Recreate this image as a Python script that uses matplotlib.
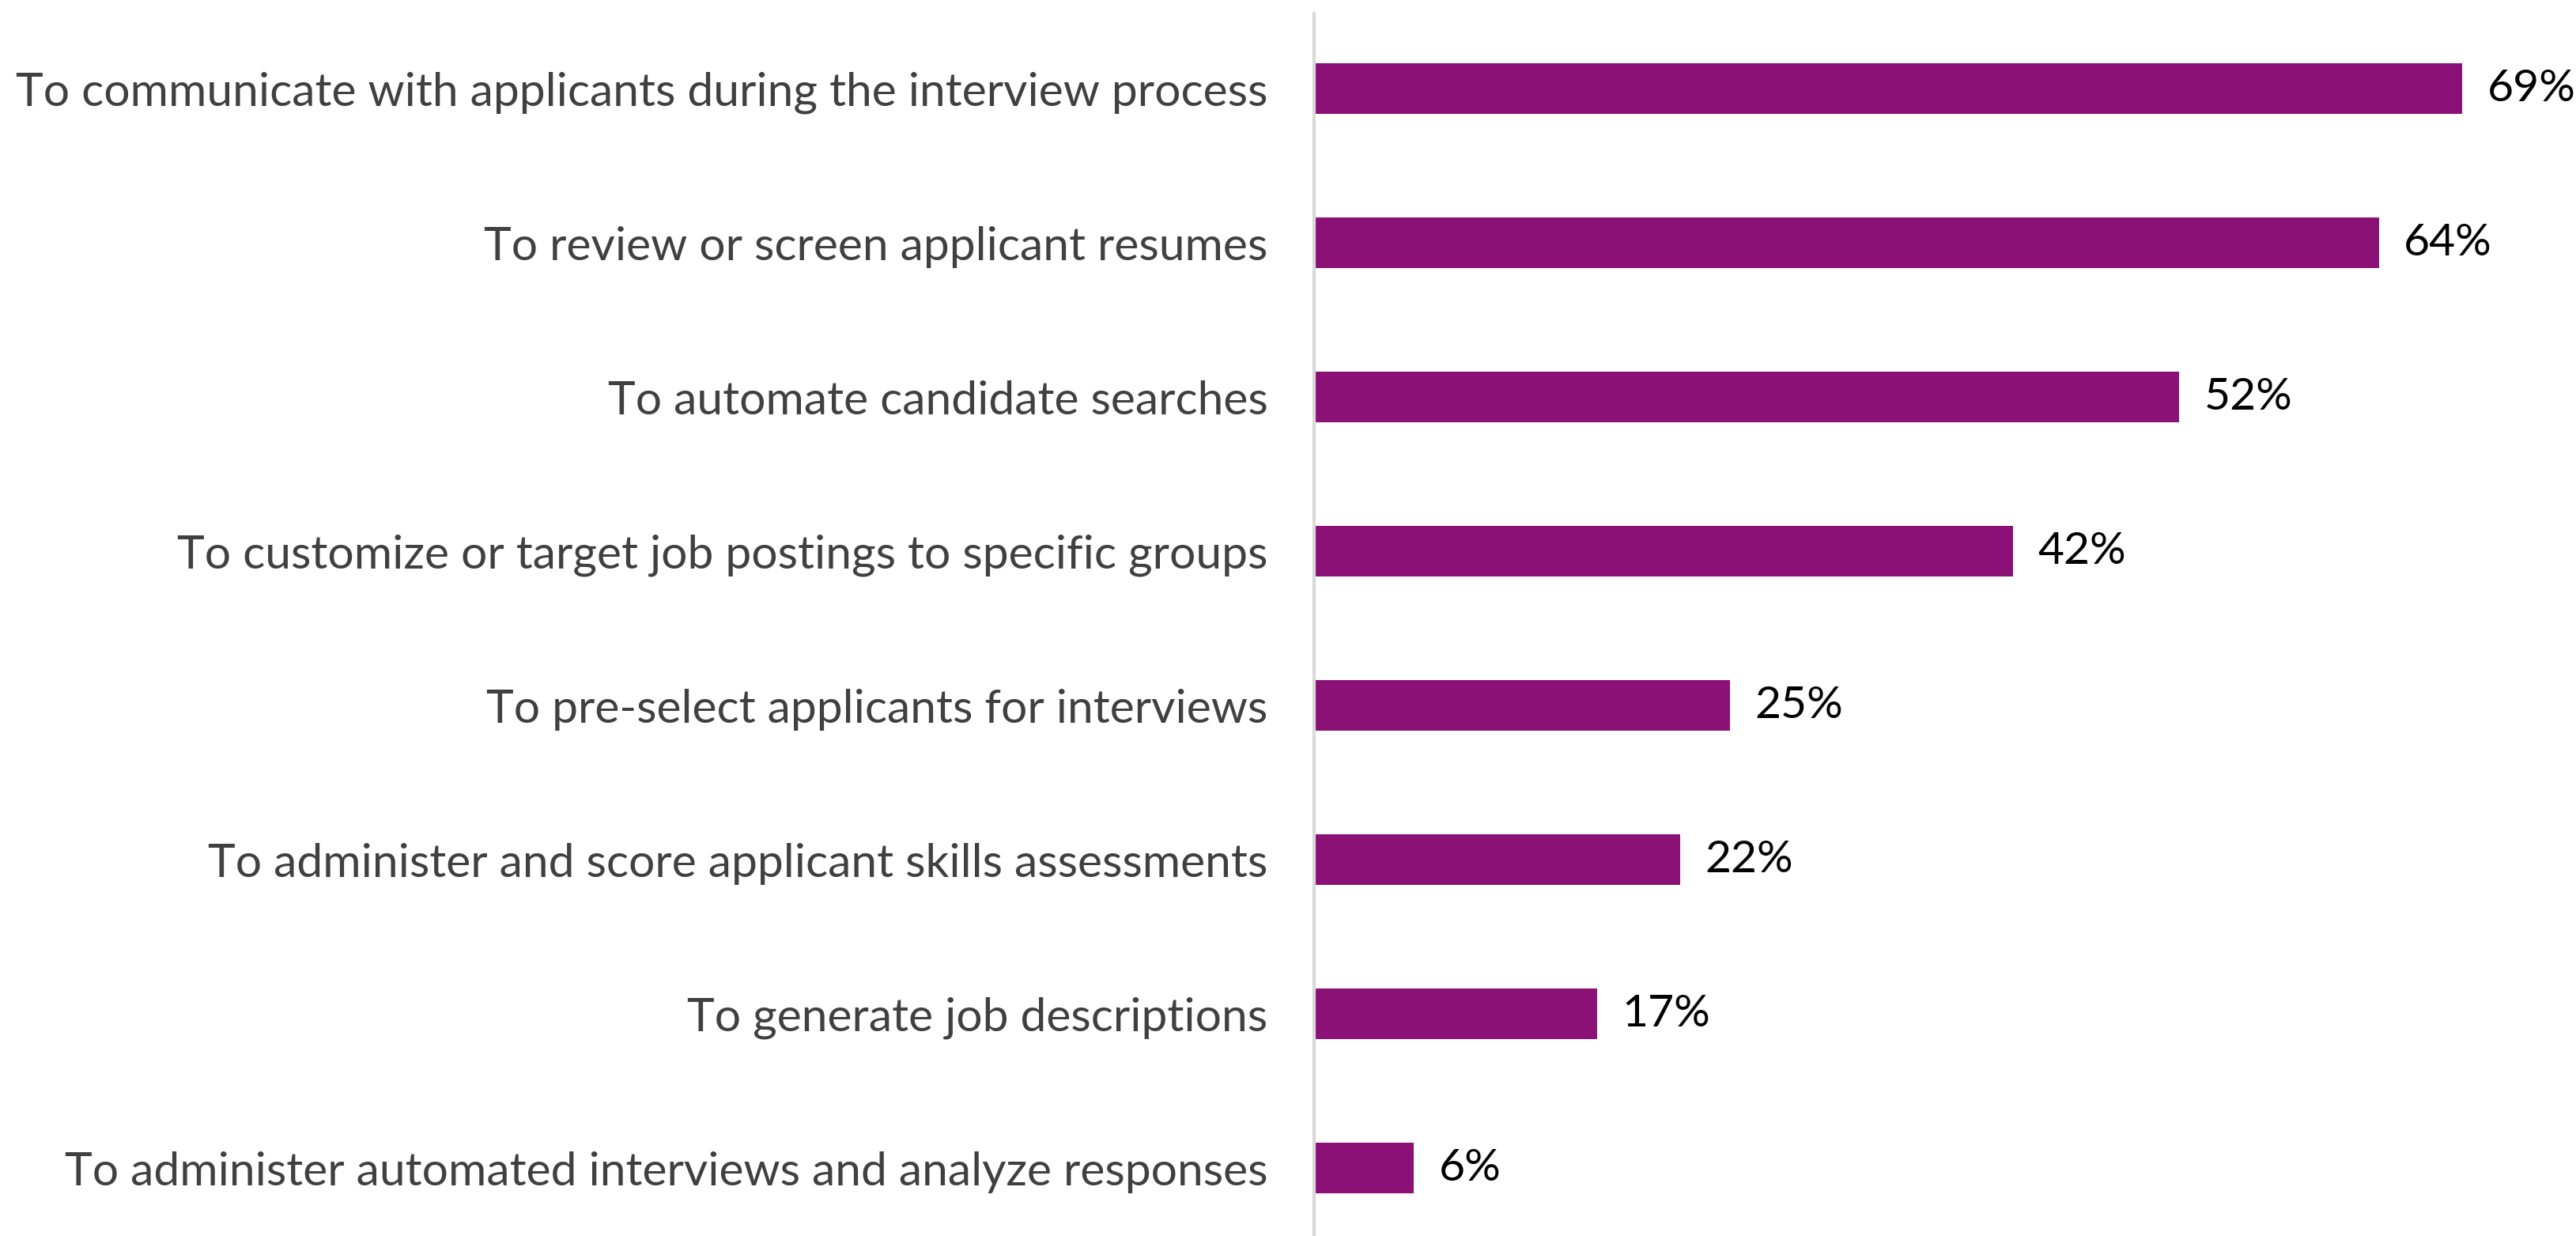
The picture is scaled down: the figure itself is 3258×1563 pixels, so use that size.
#!/usr/bin/env python3

import matplotlib
matplotlib.use('Agg')
import matplotlib.pyplot as plt
import numpy as np

categories = [
    "To communicate with applicants during the interview process",
    "To review or screen applicant resumes",
    "To automate candidate searches",
    "To customize or target job postings to specific groups",
    "To pre-select applicants for interviews",
    "To administer and score applicant skills assessments",
    "To generate job descriptions",
    "To administer automated interviews and analyze responses",
]
values = [69, 64, 52, 42, 25, 22, 17, 6]

plt.rcParams['font.family'] = ['Lato', 'DejaVu Sans']

bar_color = "#8B1177"
label_color = "#404040"

def plot_bars():
    fig = plt.figure(figsize=(32.58, 15.63), dpi=100)
    ax = fig.add_axes([0.5101, 0.0, 0.4899, 0.989])

    y = np.arange(len(categories))
    ax.barh(y, values, height=0.33, color=bar_color)

    for yi, v in zip(y, values):
        ax.text(v + 1.5, yi, f"{v}%", va='center', ha='left',
                fontsize=41, color='black')

    ax.set_xlim(0, 75.85)
    ax.set_ylim(7.44, -0.487)
    ax.set_yticks(y)
    ax.set_yticklabels(categories, fontsize=42.3, color=label_color)
    ax.tick_params(axis='y', length=0, pad=42)
    ax.set_xticks([])

    for s in ['top', 'right', 'bottom']:
        ax.spines[s].set_visible(False)
    ax.spines['left'].set_color('#D9D9D9')
    ax.spines['left'].set_linewidth(3)

    plt.savefig('out.png', dpi=100)
    plt.close(fig)


if __name__ == "__main__":
    plot_bars()
